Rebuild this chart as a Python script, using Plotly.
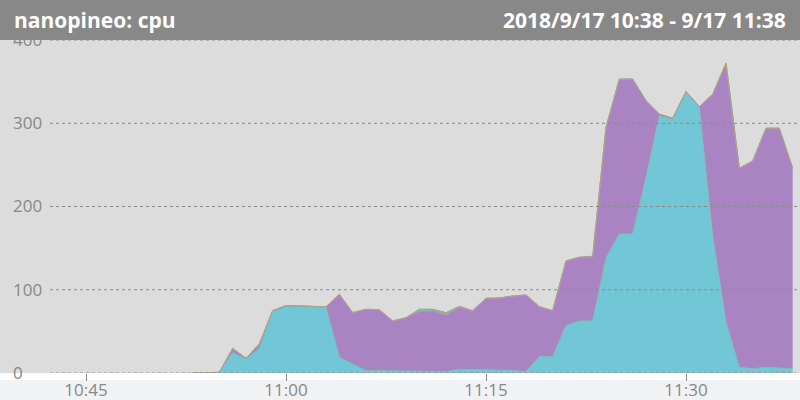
import plotly.graph_objects as go

# minute timestamps 10:53 .. 11:38
times = [f"2018-09-17 {10 + (53 + i) // 60:02d}:{(53 + i) % 60:02d}:00" for i in range(46)]

user = [0, 0, 0, 24.4, 16.4, 29.6, 73.7, 79.7, 79.7, 78.8,
        78.8, 18.8, 10.4, 2.8, 2.8, 2.5, 2.5, 2.0, 1.6, 1.6,
        4.4, 4.4, 4.0, 3.6, 3.0, 1.6, 19.6, 19.6, 56.8, 62.5,
        62.5, 138, 167, 167, 235, 308.7, 304.6, 337, 318.7, 165,
        61, 6.8, 5.2, 6.8, 6.0, 5.2]
system = [0, 0.5, 0.8, 5.2, 1.2, 5.2, 1.1, 1.3, 0.8, 0.7,
          0.7, 75.7, 62.1, 73.7, 72.9, 60.0, 63.9, 71.7, 72.9, 68.0,
          74.5, 70.4, 85.7, 86.4, 89.5, 92.1, 60.1, 55.2, 77.7, 76.5,
          77.0, 157, 186, 186, 92, 2.3, 1.4, 1.0, 1.3, 169.7,
          311, 239.2, 249.4, 287.2, 288, 240.8]
iowait = [0, 0, 0, 0, 0, 0, 0, 0, 0, 0,
          0, 0, 0, 0, 0.4, 0, 0, 2.8, 2.1, 2.8,
          1.1, 0, 0, 0, 0, 0, 0, 0, 0, 0,
          0, 0, 0, 0, 0, 0, 0, 0, 0, 0,
          0, 0, 0, 0, 0, 0]
softirq = [0, 0, 0, 0, 0, 0, 0, 0, 0, 0,
           0, 0, 0, 0, 0, 0, 0, 0, 0, 0,
           0, 0, 0, 0, 0, 0, 0, 0, 0, 0,
           0.8, 0, 0, 0, 0, 0, 0, 0, 0, 0,
           0, 0, 0, 0, 0, 0]

y_ticks = [0, 100, 200, 300, 400]
x_ticks = ["2018-09-17 10:45:00", "2018-09-17 11:00:00", "2018-09-17 11:15:00", "2018-09-17 11:30:00"]
x_tick_labels = ["10:45", "11:00", "11:15", "11:30"]
title_left = "nanopineo: cpu"
title_right = "2018/9/17 10:38 - 9/17 11:38"

fig = go.Figure()
series = [
    ("user", user, "#71c7d6", "#8cb8b8"),
    ("system", system, "#aa84c2", "#a89a98"),
    ("iowait", iowait, "#6ccaa8", "#9fb29a"),
    ("softirq", softirq, "#e0a050", "#b0a088"),
]
for name, vals, fillc, linec in series:
    fig.add_trace(go.Scatter(
        x=times, y=vals, name=name, mode="lines", stackgroup="one",
        line=dict(color=linec, width=1), fillcolor=fillc, hoverinfo="skip",
    ))

W, H = 800, 400
top, bottom = 40, 27
plot_h = H - top - bottom

shapes = []
# title bar
shapes.append(dict(type="rect", xref="paper", yref="paper", x0=0, x1=1,
                   y0=1, y1=1 + top / plot_h, fillcolor="#888888", line_width=0, layer="above"))
# bottom band
shapes.append(dict(type="rect", xref="paper", yref="paper", x0=0, x1=1,
                   y0=-(bottom) / plot_h, y1=-(7) / plot_h, fillcolor="#f1f2f4", line_width=0, layer="below"))
# dotted gridlines
for v in y_ticks:
    shapes.append(dict(type="line", xref="paper", yref="y", x0=50 / W, x1=1, y0=v, y1=v,
                       line=dict(color="#8a8a8a", width=1, dash="dot"), layer="above"))

annotations = [
    dict(text=f"<b>{title_left}</b>", xref="paper", yref="paper", x=12 / W, y=1 + 20 / plot_h,
         xanchor="left", yanchor="middle", showarrow=False,
         font=dict(family="Open Sans", size=21, color="white")),
    dict(text=f"<b>{title_right}</b>", xref="paper", yref="paper", x=1 - 12 / W, y=1 + 20 / plot_h,
         xanchor="right", yanchor="middle", showarrow=False,
         font=dict(family="Open Sans", size=21, color="white")),
]

fig.update_layout(
    width=W, height=H,
    margin=dict(l=0, r=0, t=top, b=bottom, pad=0, autoexpand=False),
    paper_bgcolor="white", plot_bgcolor="#dcdcdc",
    showlegend=False,
    shapes=shapes, annotations=annotations,
    font=dict(family="Open Sans", color="#888888"),
    xaxis=dict(
        type="date", range=["2018-09-17 10:38:33", "2018-09-17 11:38:33"],
        tickvals=x_ticks, ticktext=x_tick_labels,
        ticks="outside", ticklen=7, tickcolor="#888888", tickwidth=1,
        ticklabelstandoff=-5,
        showgrid=False, zeroline=False, showline=False, automargin=False,
        tickfont=dict(size=17, color="#888888"),
    ),
    yaxis=dict(
        range=[0, 400], tickvals=y_ticks,
        ticklabelposition="inside", ticks="", ticklabelstandoff=10,
        ticklabeloverflow="allow", automargin=False,
        showgrid=False, zeroline=False, showline=False,
        tickfont=dict(size=17, color="#888888"),
    ),
)

fig.write_html("out.html", config={"displayModeBar": False},
               post_script="document.body.style.margin='0';")
